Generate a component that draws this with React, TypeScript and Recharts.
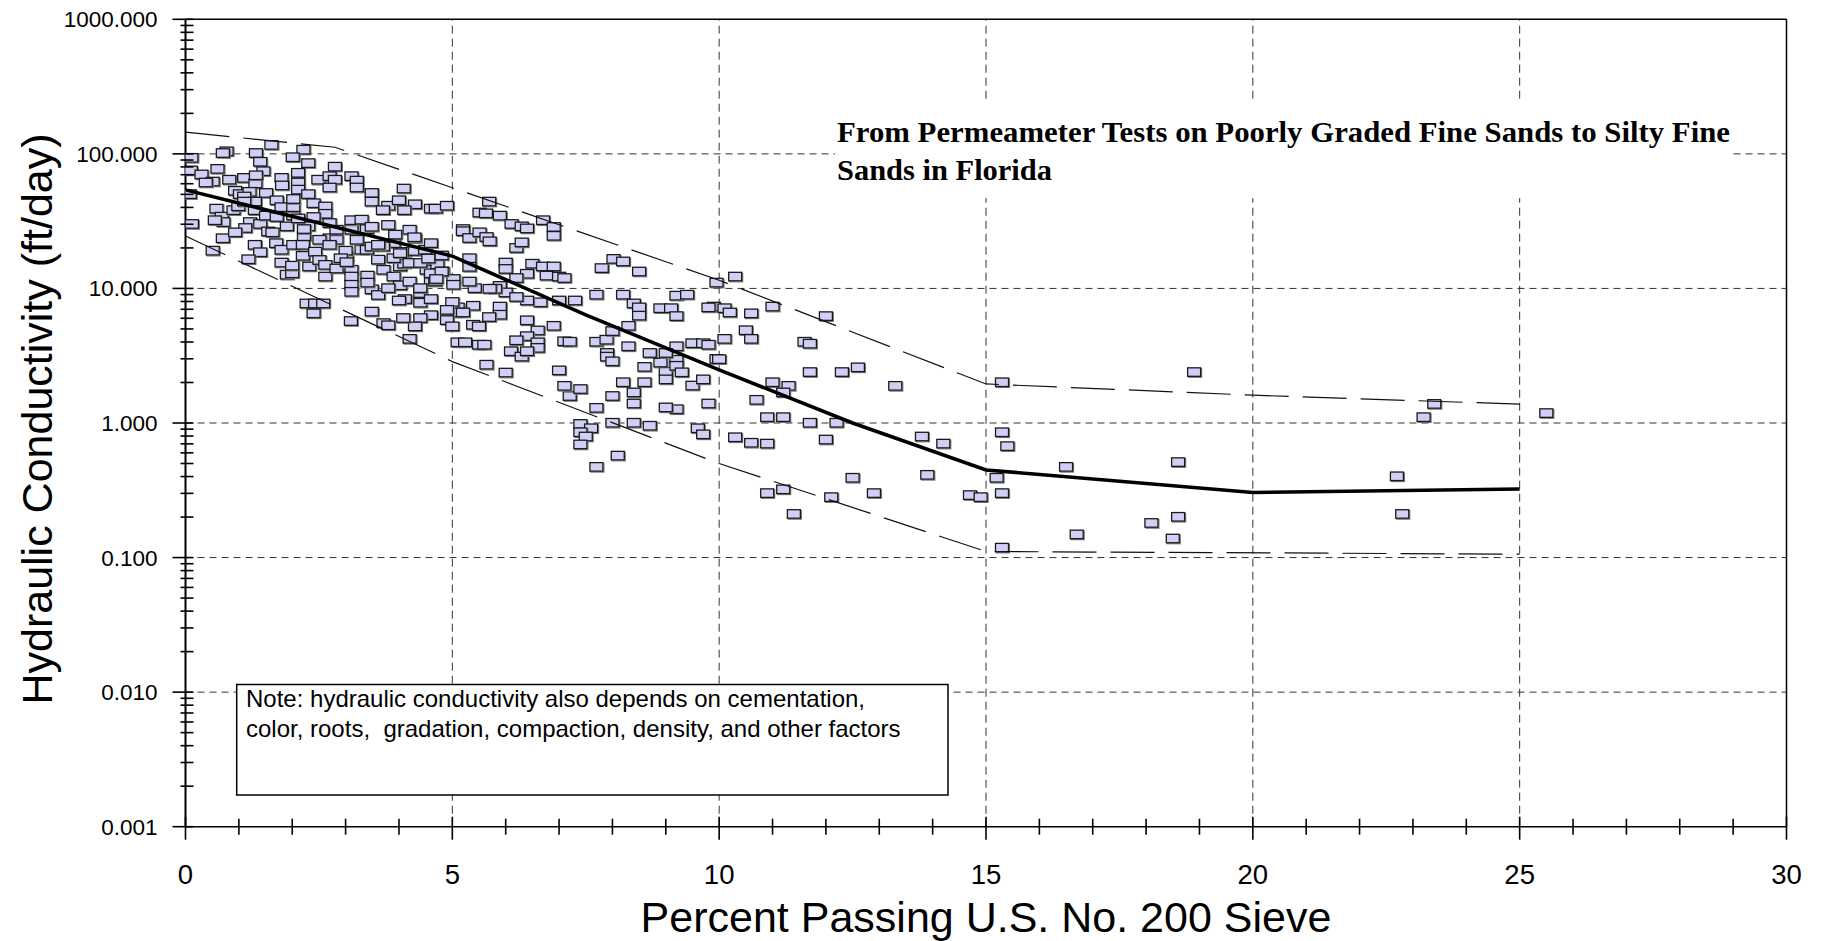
import React from 'react';
import { ScatterChart, Scatter, XAxis, YAxis, ReferenceLine } from 'recharts';

// ---------- DATA ----------
// Permeameter test samples: [percent passing No. 200 sieve, hydraulic conductivity ft/day]
const permeameterSamples: [number, number][] = [
  [1.61,116],[0.77,104],[0.70,101],[1.32,101],[2.21,107],[2.01,94],[2.30,85],[2.80,80],[0.11,93],[0.10,75],
  [0.60,77],[0.30,70],[0.51,62],[0.38,61],[0.82,64],[1.10,66],[1.40,87],[1.46,74],[1.31,60],[1.32,69],
  [1.80,66],[1.81,58],[2.11,72],[2.11,61],[2.11,54],[2.49,64],[2.70,68],[2.80,64],[2.70,56],[3.11,68],
  [3.21,63],[3.21,56],[3.49,51],[3.49,44],[4.09,55],[3.80,41],[4.00,45],[4.30,42],[3.70,38],[4.10,38],
  [4.60,39],[4.69,39],[0.08,50],[0.12,30],[0.93,53],[1.02,50],[1.20,52],[1.51,51],[1.10,48],[1.30,44],
  [0.58,39],[0.68,34],[0.71,31],[0.55,32],[0.90,38],[1.21,31],[1.40,30],[1.12,28],[0.70,23.5],[0.93,26],
  [0.51,19],[1.30,21],[1.40,18.5],[1.18,16.4],[1.55,26.4],[1.63,26],[1.71,45],[1.80,40],[1.70,21.6],[1.80,19.3],
  [1.80,15.5],[1.90,12.6],[2.00,12.9],[2.00,14.7],[2.02,21],[2.02,34.7],[2.02,40],[2.02,46],[2.22,24.3],[2.20,21],
  [2.20,17.4],[2.30,28.8],[2.30,50],[2.40,42.8],[2.43,18.7],[2.32,14.5],[2.51,16.2],[2.62,40.5],[2.62,35.7],[2.70,30.5],
  [2.70,23.5],[2.62,14.9],[2.62,12.2],[2.83,22.9],[2.83,14],[3.02,17.2],[3.00,19],[3.11,13.7],[3.11,12.2],[3.11,10.6],
  [3.11,9.4],[3.11,27.2],[3.11,32],[3.30,32.3],[3.30,19.3],[3.40,27.5],[3.41,12.4],[3.49,9.8],[3.61,16.3],[3.61,8.9],
  [3.71,13.7],[3.80,29.5],[3.90,21.6],[3.90,12.2],[4.02,14.5],[4.02,10.5],[4.11,8.3],[4.20,27.2],[4.30,23.5],[4.20,11.2],
  [4.10,18.5],[4.40,9.2],[4.40,7.8],[4.52,13.7],[4.60,6.3],[4.40,6.0],[4.30,5.2],[4.08,6.0],[3.71,5.5],[3.49,6.7],
  [3.10,5.7],[4.68,16.6],[4.60,11.5],[2.27,7.7],[2.43,7.7],[2.58,7.7],[2.40,6.5],[3.80,5.3],[4.20,4.2],[3.41,11],
  [3.80,10],[4.10,15.2],[4.00,8.1],[4.40,10],[4.60,8.3],[3.70,20.4],[4.08,18.6],[4.30,18.9],[4.58,16.4],[4.72,15],
  [4.82,13.3],[4.60,12.9],[4.68,11.2],[3.49,28.6],[3.93,25],[4.29,23.9],
  [0.99,40.6],[1.10,44],[1.30,38],[1.51,34.6],[1.71,33.8],[1.90,28.8],[2.11,33],[2.22,27.5],[2.40,33.8],[2.51,22.9],
  [2.70,21],[2.83,27.2],[2.91,16.7],[3.02,15.6],[3.21,22.9],[3.40,19.3],[3.49,20.4],[3.61,21],[3.90,16.7],[4.02,18.2],
  [4.20,15.4],[4.40,15.4],[4.49,19.3],[4.60,21.6],
  [5.69,44],[5.51,36.5],[5.63,36],[5.89,34.6],[6.11,30],[6.30,28.8],[6.40,27.8],[6.70,32],[6.90,28.5],[6.90,24.5],
  [5.20,27.5],[5.20,26.5],[5.32,23.6],[5.51,26],[5.64,24],[5.70,22.3],[6.20,19.9],[6.30,21.9],[4.90,41],[5.32,16.7],
  [5.32,14.4],[6.00,15.5],[6.00,13.9],[6.50,15.2],[6.70,14.5],[6.90,14.5],[6.77,12.4],[7.00,12.2],[7.10,11.9],[6.40,12.8],
  [6.20,11.9],[5.89,10.4],[6.00,9.3],[5.80,9.9],[5.70,9.9],[5.42,10.0],[5.32,11.2],[5.02,11.7],[5.02,10.6],[4.80,13.3],
  [4.70,11.7],[4.55,16.6],[4.80,17.5],[7.80,14.1],[8.02,16.5],[8.20,15.8],[8.50,13.3],[7.70,8.95],[8.20,8.95],[8.40,7.7],
  [8.50,7.2],[8.50,6.25],[8.90,7.1],[9.10,7.1],[9.20,6.2],[9.20,8.8],[9.40,8.95],[9.90,7.3],[9.95,11.0],[7.00,8.1],
  [7.30,8.1],[6.65,7.85],[6.40,8.1],[6.20,8.6],[5.89,7.3],[5.89,6.35],[5.69,6.1],[5.39,7.4],[5.10,7.2],[5.10,6.6],
  [5.00,7.9],[4.90,6.9],[4.90,5.8],[5.00,5.2],[5.20,6.6],[5.39,5.35],[5.50,5.2],[5.10,3.96],[5.24,3.96],[5.50,3.8],
  [5.60,3.8],[6.40,5.77],[6.60,4.85],[6.40,4.4],[6.60,3.96],[6.60,3.6],[6.20,4.1],[6.10,3.4],[6.30,3.1],[6.40,3.4],
  [6.90,5.25],[7.10,4.03],[7.20,4.0],[7.70,4.0],[7.89,4.14],[8.00,4.8],[7.90,3.3],[7.90,3.1],[8.00,2.86],[8.30,3.7],
  [8.30,5.25],[8.70,3.3],[9.00,2.4],[9.20,2.94],[9.20,2.65],[9.30,2.37],[9.00,2.1],[8.60,2.6],[8.60,2.0],[8.20,2.0],
  [8.40,1.68],[8.00,1.58],[8.40,1.39],[7.70,1.29],[7.20,1.58],[7.10,1.88],[7.00,2.45],[7.40,1.78],[5.64,2.7],[6.00,2.36],
  [9.20,1.26],[9.00,1.3],[9.50,1.89],[9.70,2.1],[9.80,1.39],[9.80,7.2],[9.20,3.7],[9.50,3.9],[9.70,3.9],[9.80,3.8],
  [9.95,2.98],[8.90,2.8],[9.00,3.3],[7.40,0.98],[7.60,0.91],[8.00,1.0],[8.40,1.0],[8.70,0.95],[9.60,0.91],[7.40,0.85],
  [7.50,0.79],[7.40,0.69],[7.70,0.47],[8.10,0.57],[9.70,0.82],
  [10.30,12.2],[10.10,7.1],[10.20,6.6],[10.60,6.5],[11.00,7.3],[12.00,6.2],[10.50,4.87],[10.60,4.2],[10.10,4.2],[11.60,4.0],
  [11.70,3.87],[10.00,2.97],[11.70,2.38],[12.30,2.38],[12.60,2.58],[13.30,1.88],[11.00,2.0],[11.30,1.88],[11.20,1.68],[10.70,1.48],
  [10.90,1.1],[11.20,1.1],[11.70,1.0],[12.20,1.0],[12.00,0.75],[10.30,0.78],[10.60,0.71],[10.90,0.70],[13.80,0.79],[14.20,0.70],
  [12.50,0.39],[13.90,0.41],[12.90,0.30],[10.90,0.30],[11.20,0.32],[12.10,0.28],[11.40,0.21],[14.70,0.29],[14.90,0.28],[15.20,0.39],
  [15.30,0.30],[15.30,0.85],[15.30,2.0],[18.90,2.38],[23.40,1.38],[23.20,1.1],[25.50,1.18],[15.40,0.67],[16.50,0.47],[18.60,0.51],
  [22.70,0.40],[22.80,0.21],[18.10,0.18],[18.60,0.20],[16.70,0.148],[18.50,0.138],[15.30,0.118],
];

// Fitted trend (solid) and envelope lines (dashed): [percent passing, K]
const trendLine: [number, number][] = [[0, 54], [5, 17.4], [7.5, 6.35], [10, 2.48], [12.5, 1.0], [15, 0.448], [20, 0.305], [25, 0.323]];
const upperBound: [number, number][] = [[0, 145], [2.8, 112], [5, 56], [10, 11.5], [15, 1.95], [20, 1.61], [25, 1.38]];
const lowerBound: [number, number][] = [[0, 24.5], [5, 2.86], [10, 0.5], [15, 0.111], [25, 0.106]];

// Axis ticks
const xTicks: number[] = Array.from({ length: 31 }, (_, i) => i);
const xLabelTicks: number[] = [0, 5, 10, 15, 20, 25, 30];
const yDecades: number[] = [0.001, 0.01, 0.1, 1, 10, 100, 1000];
const yMinorMultipliers: number[] = [1, 2, 3, 4, 5, 6, 7, 8, 9];
const xGrid: number[] = [5, 10, 15, 20, 25];
const yGrid: number[] = [0.01, 0.1, 1, 10, 100];

const yTicks: number[] = [];
yDecades.slice(0, 6).forEach((d) => yMinorMultipliers.forEach((m) => yTicks.push(Number((m * d).toPrecision(6)))));
yTicks.push(1000);

const toPts = (arr: [number, number][]) => arr.map(([x, y]) => ({ x, y }));

const SANS = "'Liberation Sans', Arial, sans-serif";
const SERIF = "'Liberation Serif', 'Times New Roman', serif";

const isDecade = (v: number) => yDecades.some((d) => Math.abs(d - v) / d < 1e-6);

const XTick = (props: any) => {
  const { x, y, payload } = props;
  const v = payload.value;
  const major = v % 5 === 0;
  return (
    <g>
      <line x1={x} x2={x} y1={major ? y - 10 : y - 8} y2={major ? y + 13 : y + 8} stroke="#000" strokeWidth={1.6} />
      {xLabelTicks.includes(v) && (
        <text x={x} y={y + 57} textAnchor="middle" fontSize={27.5} fontFamily={SANS} fill="#000">
          {v}
        </text>
      )}
    </g>
  );
};

const YTick = (props: any) => {
  const { x, y, payload } = props;
  const v = payload.value;
  const major = isDecade(v);
  return (
    <g>
      <line x1={major ? x - 13 : x - 5} x2={x + 8} y1={y} y2={y} stroke="#000" strokeWidth={1.6} />
      {major && (
        <text x={x - 28} y={y + 8} textAnchor="end" fontSize={22.5} fontFamily={SANS} fill="#000">
          {v.toFixed(3)}
        </text>
      )}
    </g>
  );
};

const Marker = (props: any) => {
  const { cx, cy } = props;
  if (cx == null || cy == null) return <g />;
  return (
    <g>
      <rect x={cx - 5.5} y={cy - 3.5} width={13} height={8.5} fill="none" stroke="#7a7a7a" strokeWidth={1.2} />
      <rect x={cx - 6.5} y={cy - 4.5} width={13} height={8.5} fill="#d0d0f6" stroke="#1a1a1a" strokeWidth={1.3} />
    </g>
  );
};

const NoMarker = () => <g />;

export default function App() {
  return (
    <div style={{ position: 'absolute', left: 0, top: 0, width: 1822, height: 941, background: '#fff' }}>
      <ScatterChart width={1822} height={941} margin={{ top: 19.3, right: 35.5, bottom: 54.3, left: 65.5 }}>
        <XAxis
          dataKey="x"
          type="number"
          domain={[0, 30]}
          ticks={xTicks}
          interval={0}
          tickSize={0}
          tickMargin={0}
          tick={<XTick />}
          height={60}
          axisLine={{ stroke: '#000', strokeWidth: 1.6 }}
          allowDataOverflow
        />
        <YAxis
          dataKey="y"
          type="number"
          scale="log"
          domain={[0.001, 1000]}
          ticks={yTicks}
          interval={0}
          tickSize={0}
          tickMargin={0}
          tick={<YTick />}
          width={120}
          axisLine={{ stroke: '#000', strokeWidth: 2 }}
          allowDataOverflow
        />
        {xGrid.map((g) => (
          <ReferenceLine key={'xg' + g} x={g} stroke="#333" strokeWidth={1} strokeDasharray="8 5" />
        ))}
        {yGrid.map((g) => (
          <ReferenceLine key={'yg' + g} y={g} stroke="#333" strokeWidth={1} strokeDasharray="7 5" />
        ))}
        <ReferenceLine y={1000} stroke="#000" strokeWidth={1.5} />
        <ReferenceLine x={30} stroke="#000" strokeWidth={1.5} />
        <Scatter data={toPts(permeameterSamples)} shape={<Marker />} isAnimationActive={false} />
        <Scatter
          data={toPts(upperBound)}
          line={{ stroke: '#111', strokeWidth: 1.2, strokeDasharray: '44 14' }}
          lineType="joint"
          shape={<NoMarker />}
          isAnimationActive={false}
        />
        <Scatter
          data={toPts(lowerBound)}
          line={{ stroke: '#111', strokeWidth: 1.2, strokeDasharray: '44 14' }}
          lineType="joint"
          shape={<NoMarker />}
          isAnimationActive={false}
        />
        <Scatter
          data={toPts(trendLine)}
          line={{ stroke: '#000', strokeWidth: 3.5 }}
          lineType="joint"
          shape={<NoMarker />}
          isAnimationActive={false}
        />
      </ScatterChart>
      <svg width={1822} height={941} style={{ position: 'absolute', left: 0, top: 0, pointerEvents: 'none' }}>
        <rect x={835} y={100} width={898} height={98} fill="#fff" />
        <text x={837} y={141.7} fontSize={30} fontWeight="bold" fontFamily={SERIF} textLength={893} lengthAdjust="spacingAndGlyphs" fill="#000">
          From Permeameter Tests on Poorly Graded Fine Sands to Silty Fine
        </text>
        <text x={837} y={180} fontSize={30} fontWeight="bold" fontFamily={SERIF} textLength={215} lengthAdjust="spacingAndGlyphs" fill="#000">
          Sands in Florida
        </text>
        <rect x={236.7} y={684.5} width={711.3} height={110.5} fill="#fff" stroke="#000" strokeWidth={1.5} />
        <text x={246} y={707} fontSize={24} fontFamily={SANS} fill="#000" style={{ whiteSpace: 'pre' }}>
          Note: hydraulic conductivity also depends on cementation,
        </text>
        <text x={246} y={736.5} fontSize={24} fontFamily={SANS} fill="#000" style={{ whiteSpace: 'pre' }}>
          {'color, roots,  gradation, compaction, density, and other factors'}
        </text>
        <text transform="translate(52, 419) rotate(-90)" textAnchor="middle" fontSize={43} fontFamily={SANS} fill="#000">
          Hydraulic Conductivity (ft/day)
        </text>
        <text x={986} y={932} textAnchor="middle" fontSize={43} fontFamily={SANS} fill="#000">
          Percent Passing U.S. No. 200 Sieve
        </text>
      </svg>
    </div>
  );
}
